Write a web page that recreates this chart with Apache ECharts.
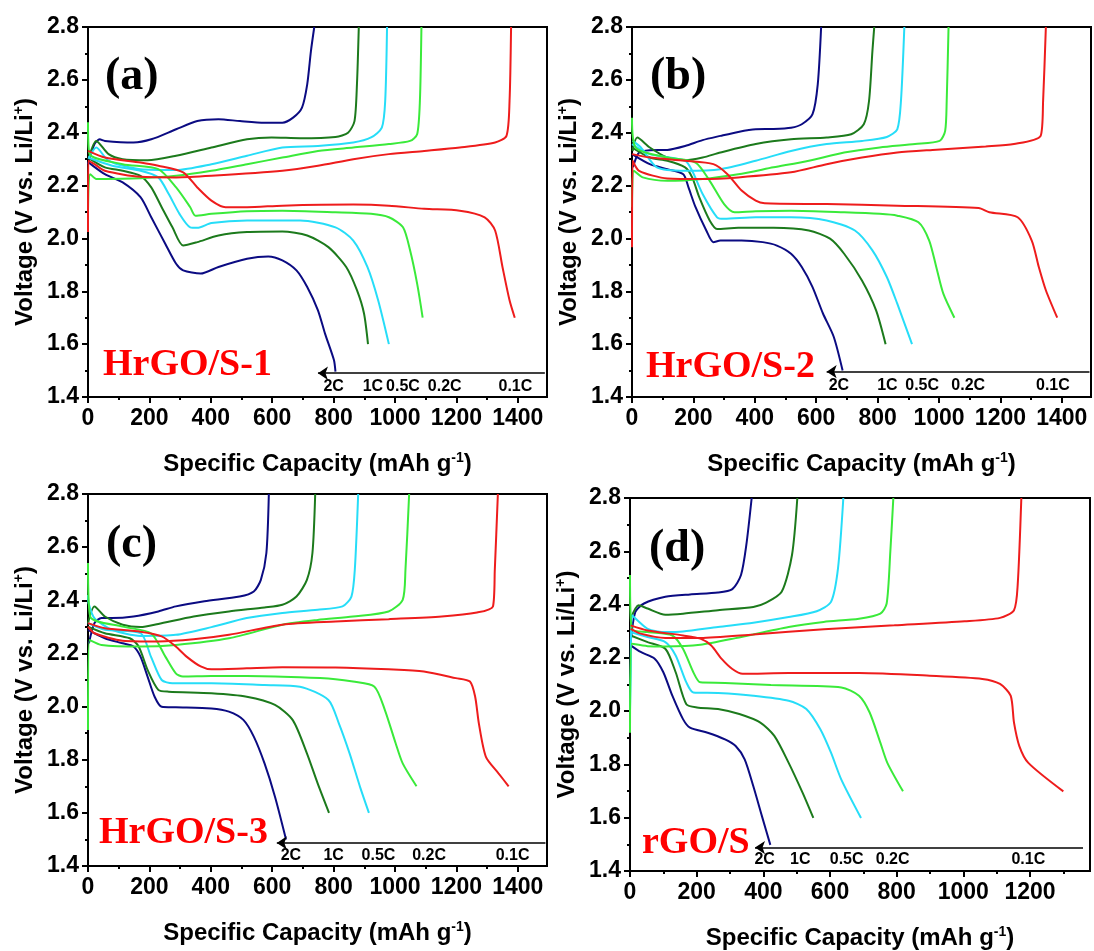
<!DOCTYPE html>
<html>
<head>
<meta charset="utf-8">
<script src="https://cdn.jsdelivr.net/npm/echarts@6/dist/echarts.min.js"></script>
<style>html,body{margin:0;padding:0;background:#fff}#c{width:1094px;height:951px}</style>
</head>
<body>
<div id="c"></div>
<script>
// ---------- data: [capacity (mAh/g), voltage (V)] ----------
// Panel (a) HrGO/S-1
const A_2C_D = [[0,2.29],[9,2.281],[55,2.243],[113,2.212],[171,2.156],[206,2.08],[252,1.979],[287,1.904],[310,1.879],[367,1.867],[425,1.892],[518,1.923],[587,1.932],[633,1.917],[679,1.879],[714,1.816],[749,1.728],[772,1.64],[801,1.54],[806,1.496]];
const A_2C_C = [[0,2.281],[21,2.357],[38,2.375],[55,2.369],[148,2.363],[206,2.375],[287,2.413],[356,2.444],[425,2.451],[495,2.444],[575,2.438],[633,2.438],[668,2.457],[697,2.495],[714,2.583],[726,2.708],[737,2.8]];
const A_1C_D = [[0,2.306],[55,2.269],[113,2.256],[171,2.237],[206,2.193],[240,2.118],[275,2.042],[310,1.973],[356,1.986],[425,2.011],[518,2.024],[633,2.026],[714,2.011],[783,1.967],[841,1.892],[876,1.804],[899,1.716],[912,1.6]];
const A_1C_C = [[3,2.306],[27,2.369],[67,2.319],[113,2.3],[194,2.296],[287,2.313],[402,2.344],[518,2.375],[598,2.382],[691,2.379],[806,2.384],[847,2.4],[868,2.444],[876,2.583],[882,2.8]];
const A_05C_D = [[0,2.306],[79,2.275],[171,2.256],[229,2.231],[263,2.168],[298,2.093],[333,2.042],[356,2.04],[402,2.058],[518,2.068],[691,2.068],[806,2.042],[864,1.992],[910,1.892],[945,1.766],[980,1.6]];
const A_05C_C = [[3,2.306],[27,2.344],[67,2.294],[171,2.262],[287,2.259],[402,2.281],[518,2.313],[633,2.344],[749,2.35],[864,2.363],[922,2.382],[957,2.419],[968,2.52],[974,2.8]];
const A_02C_D = [[0,2.44],[5,2.32],[113,2.281],[229,2.262],[287,2.193],[333,2.118],[350,2.086],[402,2.093],[518,2.103],[633,2.105],[806,2.099],[922,2.093],[980,2.08],[1026,2.042],[1049,1.955],[1072,1.829],[1090,1.7]];
const A_02C_C = [[0,2.1],[2,2.2],[7,2.243],[27,2.225],[55,2.225],[171,2.228],[287,2.237],[402,2.256],[518,2.281],[633,2.306],[749,2.331],[864,2.344],[980,2.357],[1049,2.369],[1072,2.394],[1081,2.52],[1086,2.8]];
const A_01C_D = [[0,2.331],[55,2.306],[171,2.287],[229,2.275],[310,2.25],[356,2.193],[402,2.143],[448,2.118],[518,2.118],[633,2.124],[864,2.128],[980,2.124],[1095,2.112],[1211,2.105],[1292,2.08],[1326,2.03],[1350,1.892],[1373,1.766],[1390,1.7]];
const A_01C_C = [[0,2.024],[1,2.294],[21,2.281],[55,2.256],[171,2.233],[287,2.231],[402,2.237],[633,2.256],[749,2.275],[864,2.3],[980,2.319],[1095,2.331],[1211,2.344],[1326,2.363],[1363,2.388],[1373,2.52],[1378,2.8]];
// Panel (b) HrGO/S-2
const B_2C_D = [[0,2.319],[58,2.281],[115,2.262],[167,2.243],[184,2.193],[207,2.118],[242,2.03],[265,1.986],[288,1.992],[357,1.992],[426,1.986],[472,1.973],[518,1.942],[553,1.892],[588,1.816],[622,1.716],[657,1.628],[686,1.5]];
const B_2C_C = [[3,2.269],[23,2.325],[58,2.334],[115,2.335],[173,2.35],[230,2.372],[288,2.388],[346,2.403],[403,2.413],[461,2.414],[518,2.419],[553,2.432],[588,2.47],[605,2.583],[616,2.8]];
const B_1C_D = [[0,2.344],[58,2.306],[115,2.294],[173,2.269],[196,2.231],[219,2.156],[253,2.068],[277,2.036],[346,2.04],[461,2.04],[576,2.03],[645,1.999],[691,1.942],[749,1.841],[795,1.728],[826,1.6]];
const B_1C_C = [[2,2.331],[17,2.382],[58,2.344],[115,2.306],[173,2.296],[230,2.306],[288,2.325],[403,2.357],[518,2.375],[634,2.382],[714,2.394],[755,2.432],[772,2.52],[783,2.708],[789,2.8]];
const B_05C_D = [[0,2.357],[58,2.319],[173,2.294],[196,2.256],[230,2.168],[277,2.08],[300,2.074],[403,2.08],[518,2.08],[634,2.068],[726,2.03],[783,1.955],[830,1.854],[864,1.753],[912,1.6]];
const B_05C_C = [[2,2.369],[29,2.344],[81,2.269],[173,2.256],[288,2.262],[403,2.294],[518,2.331],[634,2.357],[749,2.369],[830,2.384],[864,2.413],[876,2.52],[887,2.8]];
const B_02C_D = [[0,2.457],[12,2.344],[115,2.306],[207,2.287],[253,2.218],[300,2.13],[334,2.099],[403,2.103],[518,2.105],[691,2.099],[807,2.093],[864,2.086],[933,2.061],[968,1.992],[991,1.892],[1014,1.791],[1050,1.7]];
const B_02C_C = [[0,2.118],[6,2.256],[35,2.231],[115,2.218],[230,2.225],[346,2.243],[461,2.269],[576,2.294],[691,2.325],[807,2.344],[922,2.357],[1002,2.369],[1020,2.407],[1025,2.52],[1031,2.8]];
const B_01C_D = [[0,2.319],[58,2.306],[173,2.294],[265,2.281],[311,2.243],[357,2.181],[403,2.143],[432,2.133],[634,2.13],[864,2.124],[1129,2.115],[1164,2.099],[1256,2.08],[1302,1.992],[1325,1.892],[1348,1.804],[1385,1.7]];
const B_01C_C = [[0,1.967],[2,2.294],[23,2.256],[115,2.227],[230,2.225],[346,2.231],[518,2.25],[634,2.281],[749,2.306],[864,2.325],[979,2.335],[1152,2.348],[1244,2.357],[1331,2.388],[1339,2.52],[1348,2.8]];
// Panel (c) HrGO/S-3
const C_2C_D = [[0,2.289],[55,2.257],[113,2.238],[148,2.226],[171,2.188],[194,2.113],[217,2.037],[240,1.999],[286,1.997],[402,1.993],[459,1.981],[506,1.95],[540,1.887],[575,1.786],[609,1.661],[645,1.5]];
const C_2C_C = [[3,2.238],[21,2.314],[44,2.333],[78,2.333],[148,2.339],[229,2.358],[286,2.377],[379,2.396],[494,2.414],[540,2.433],[563,2.477],[581,2.578],[589,2.8]];
const C_1C_D = [[0,2.301],[55,2.276],[136,2.257],[165,2.226],[194,2.138],[229,2.063],[263,2.056],[402,2.05],[517,2.037],[609,2.006],[667,1.949],[713,1.824],[748,1.711],[785,1.6]];
const C_1C_C = [[0,2.314],[21,2.377],[55,2.339],[113,2.308],[171,2.299],[229,2.311],[344,2.339],[459,2.358],[575,2.373],[633,2.383],[679,2.414],[713,2.477],[731,2.578],[740,2.8]];
const C_05C_D = [[0,2.314],[55,2.289],[171,2.276],[205,2.188],[240,2.1],[275,2.088],[402,2.088],[575,2.081],[690,2.075],[783,2.025],[817,1.937],[852,1.824],[886,1.698],[915,1.6]];
const C_05C_C = [[0,2.42],[2,2.389],[21,2.333],[78,2.289],[171,2.266],[286,2.27],[402,2.299],[517,2.333],[633,2.352],[748,2.364],[829,2.377],[858,2.414],[869,2.515],[880,2.8]];
const C_02C_D = [[0,2.54],[7,2.339],[113,2.301],[205,2.276],[252,2.188],[286,2.125],[309,2.113],[402,2.115],[517,2.115],[690,2.11],[806,2.103],[863,2.094],[933,2.075],[967,1.987],[1002,1.862],[1025,1.786],[1070,1.7]];
const C_02C_C = [[0,1.912],[5,2.251],[44,2.232],[171,2.226],[286,2.232],[459,2.257],[633,2.308],[748,2.326],[863,2.339],[979,2.358],[1025,2.402],[1034,2.515],[1046,2.8]];
const C_01C_D = [[0,2.314],[55,2.295],[171,2.282],[240,2.264],[286,2.226],[321,2.188],[367,2.151],[402,2.14],[517,2.144],[633,2.148],[806,2.147],[979,2.14],[1094,2.132],[1198,2.107],[1244,2.094],[1261,2.037],[1273,1.937],[1296,1.811],[1337,1.749],[1370,1.7]];
const C_01C_C = [[0,2.301],[21,2.276],[113,2.248],[229,2.245],[344,2.253],[459,2.27],[633,2.308],[806,2.32],[979,2.329],[1152,2.339],[1267,2.354],[1319,2.377],[1325,2.515],[1335,2.8]];
// Panel (d) rGO/S
const D_2C_D = [[2,2.247],[32,2.222],[74,2.197],[100,2.146],[127,2.058],[159,1.97],[180,1.938],[233,1.919],[285,1.894],[317,1.869],[344,1.819],[370,1.718],[396,1.605],[421,1.498]];
const D_2C_C = [[2,2.259],[16,2.372],[42,2.404],[106,2.429],[180,2.438],[264,2.445],[307,2.458],[333,2.511],[349,2.624],[365,2.8]];
const D_1C_D = [[2,2.284],[53,2.259],[106,2.234],[137,2.146],[169,2.026],[201,2.014],[264,2.008],[328,1.989],[391,1.957],[433,1.907],[476,1.806],[518,1.693],[550,1.599]];
const D_1C_C = [[2,2.347],[26,2.397],[53,2.385],[106,2.362],[159,2.366],[264,2.379],[370,2.391],[407,2.406],[455,2.448],[486,2.586],[502,2.8]];
const D_05C_D = [[2,2.297],[53,2.278],[106,2.259],[137,2.209],[169,2.108],[190,2.07],[264,2.068],[370,2.058],[476,2.039],[529,2.008],[571,1.932],[603,1.844],[634,1.743],[693,1.599]];
const D_05C_C = [[0,2.0],[2,2.133],[6,2.36],[53,2.309],[106,2.297],[159,2.299],[264,2.316],[370,2.332],[476,2.353],[560,2.375],[603,2.41],[624,2.536],[640,2.8]];
const D_02C_D = [[0,2.511],[5,2.309],[53,2.297],[127,2.284],[159,2.234],[190,2.146],[211,2.108],[285,2.106],[423,2.098],[634,2.089],[687,2.058],[719,1.995],[751,1.882],[772,1.806],[819,1.699]];
const D_02C_C = [[0,1.919],[5,2.253],[53,2.244],[106,2.243],[211,2.249],[317,2.274],[476,2.316],[581,2.335],[687,2.347],[751,2.366],[770,2.404],[781,2.599],[790,2.8]];
const D_01C_D = [[2,2.322],[53,2.303],[159,2.284],[211,2.272],[243,2.247],[275,2.196],[307,2.158],[338,2.14],[476,2.143],[687,2.143],[899,2.133],[1057,2.121],[1110,2.102],[1142,2.058],[1152,1.957],[1168,1.869],[1195,1.806],[1300,1.699]];
const D_01C_C = [[2,2.309],[32,2.291],[106,2.275],[211,2.275],[370,2.288],[582,2.307],[793,2.322],[1004,2.337],[1110,2.35],[1152,2.379],[1163,2.473],[1174,2.8]];

// rates and annotation text
const RATES = ['2C','1C','0.5C','0.2C','0.1C'];
const PANEL_TAGS = ['(a)','(b)','(c)','(d)'];
const SAMPLES = ['HrGO/S-1','HrGO/S-2','HrGO/S-3','rGO/S'];
// rate-label anchor capacities and voltage, per panel
const LABEL_CAP_A = [800,928,1026,1162,1392];
const LABEL_CAP_B = [674,832,945,1095,1371];
const LABEL_CAP_C = [661,800,946,1111,1383];
const LABEL_CAP_D = [404,511,650,788,1195];
const LABEL_V = [1.440,1.443,1.438,1.444];
// arrow: [from capacity, to capacity, voltage]
const ARROW_A = [1488,749,1.49];
const ARROW_B = [1490,634,1.496];
const ARROW_C = [1490,615,1.487];
const ARROW_D = [1359,375,1.488];
// axis ticks
const X_MAJOR = [0,200,400,600,800,1000,1200,1400];
const X_MINOR = [100,300,500,700,900,1100,1300];
const X_MAX = [1495,1495,1495,1380];
const Y_MIN = 1.4, Y_MAX = 2.8, Y_STEP = 0.2;

// ---------- build ----------
const PANELS = [
  {curves:[[A_2C_D,A_2C_C],[A_1C_D,A_1C_C],[A_05C_D,A_05C_C],[A_02C_D,A_02C_C],[A_01C_D,A_01C_C]], caps:LABEL_CAP_A, arrow:ARROW_A},
  {curves:[[B_2C_D,B_2C_C],[B_1C_D,B_1C_C],[B_05C_D,B_05C_C],[B_02C_D,B_02C_C],[B_01C_D,B_01C_C]], caps:LABEL_CAP_B, arrow:ARROW_B},
  {curves:[[C_2C_D,C_2C_C],[C_1C_D,C_1C_C],[C_05C_D,C_05C_C],[C_02C_D,C_02C_C],[C_01C_D,C_01C_C]], caps:LABEL_CAP_C, arrow:ARROW_C},
  {curves:[[D_2C_D,D_2C_C],[D_1C_D,D_1C_C],[D_05C_D,D_05C_C],[D_02C_D,D_02C_C],[D_01C_D,D_01C_C]], caps:LABEL_CAP_D, arrow:ARROW_D}
];
const COLORS = ['#0b0b82','#1c7a1c','#26ddf8','#3aea3a','#ee1c1c'];
const GRIDS = [
  {left:88, top:27, width:459, height:370},
  {left:632, top:27, width:459, height:370},
  {left:88, top:494, width:459, height:372},
  {left:630, top:498, width:460, height:373}
];
const SANS = 'Liberation Sans, Arial, sans-serif';
const SERIF = 'Liberation Serif, Times New Roman, serif';
const BLACK = '#000';

const grid = GRIDS.map(g => Object.assign({show:true, borderColor:BLACK, borderWidth:2, backgroundColor:'transparent', containLabel:false, outerBoundsMode:'none'}, g));
const xAxis = [], yAxis = [], series = [];
const supRich = {sup:{fontSize:14, fontWeight:'bold', color:BLACK, fontFamily:SANS, verticalAlign:'top', padding:[0,0,12,0]}};

PANELS.forEach((p, i) => {
  xAxis.push({
    gridIndex:i, type:'value', min:0, max:X_MAX[i], position:'bottom',
    axisLine:{show:true, onZero:false, lineStyle:{color:BLACK, width:2}},
    axisTick:{show:true, length:6, lineStyle:{color:BLACK, width:2}, customValues:X_MAJOR},
    axisLabel:{customValues:X_MAJOR, formatter:v => String(Math.round(v)), fontSize:23, fontWeight:'bold', color:BLACK, fontFamily:SANS, margin:10},
    splitLine:{show:false},
    name:'Specific Capacity (mAh g{sup|-1})', nameLocation:'middle', nameGap:54,
    nameTextStyle:{fontSize:24, fontWeight:'bold', color:BLACK, fontFamily:SANS, rich:supRich}
  });
  xAxis.push({
    gridIndex:i, type:'value', min:0, max:X_MAX[i], position:'bottom',
    axisLine:{show:false, onZero:false},
    axisTick:{show:true, length:3, lineStyle:{color:BLACK, width:2}, customValues:X_MINOR},
    axisLabel:{show:false}, splitLine:{show:false}
  });
  yAxis.push({
    gridIndex:i, type:'value', min:Y_MIN, max:Y_MAX, interval:Y_STEP,
    axisLine:{show:true, onZero:false, lineStyle:{color:BLACK, width:2}},
    axisTick:{show:true, length:6, lineStyle:{color:BLACK, width:2}},
    minorTick:{show:true, splitNumber:2, length:3, lineStyle:{color:BLACK, width:2}},
    axisLabel:{formatter:v => v.toFixed(1), fontSize:23, fontWeight:'bold', color:BLACK, fontFamily:SANS, margin:9},
    splitLine:{show:false},
    name:'Voltage (V vs. Li/Li{sup|+})', nameLocation:'middle', nameGap:50,
    nameTextStyle:{fontSize:24, fontWeight:'bold', color:BLACK, fontFamily:SANS, rich:supRich}
  });
  p.curves.forEach((pair, k) => {
    pair.forEach((d, j) => {
      series.push({
        type:'line', xAxisIndex:2*i, yAxisIndex:i, data:d, showSymbol:false, symbol:'none',
        smooth:0.25, lineStyle:{color:COLORS[k], width:2}, itemStyle:{color:COLORS[k]},
        silent:true, z: 2 + k, name: RATES[k] + (j ? ' charge' : ' discharge')
      });
    });
  });
  series.push({
    type:'scatter', xAxisIndex:2*i, yAxisIndex:i, symbol:'circle', symbolSize:1, itemStyle:{color:'#fff', opacity:1},
    silent:true, z:10,
    data: RATES.map((r, k) => ({name:r, value:[p.caps[k], LABEL_V[i]]})),
    label:{show:true, position:'inside', formatter:'{b}', fontSize:16, fontWeight:'bold', color:'#000',
      textBorderWidth:0, textBorderColor:'transparent', opacity:1, fontFamily:SANS},
    markLine:{
      silent:true, symbol:['none','arrow'], symbolSize:10, animation:false,
      label:{show:false}, lineStyle:{color:BLACK, width:1.5, type:'solid'},
      data:[[{coord:[p.arrow[0], p.arrow[2]]},{coord:[p.arrow[1], p.arrow[2]]}]]
    }
  });
});

const TAG_POS = [[105,80],[650,80],[106,548],[649,552]];
const SAMPLE_POS = [[103,367],[646,369],[99,835],[642,845]];
const graphic = [];
PANEL_TAGS.forEach((t, i) => graphic.push({type:'text', left:TAG_POS[i][0], top:TAG_POS[i][1]-26, z:100,
  style:{text:t, fontSize:46, fontWeight:'bold', fontFamily:SERIF, fill:BLACK}}));
SAMPLES.forEach((t, i) => graphic.push({type:'text', left:SAMPLE_POS[i][0], top:SAMPLE_POS[i][1]-21, z:100,
  style:{text:t, fontSize:38, fontWeight:'bold', fontFamily:SERIF, fill:'#ff0000'}}));

const chart = echarts.init(document.getElementById('c'), null, {renderer:'canvas'});
chart.setOption({animation:false, backgroundColor:'#fff', grid, xAxis, yAxis, series, graphic});
</script>
</body>
</html>
